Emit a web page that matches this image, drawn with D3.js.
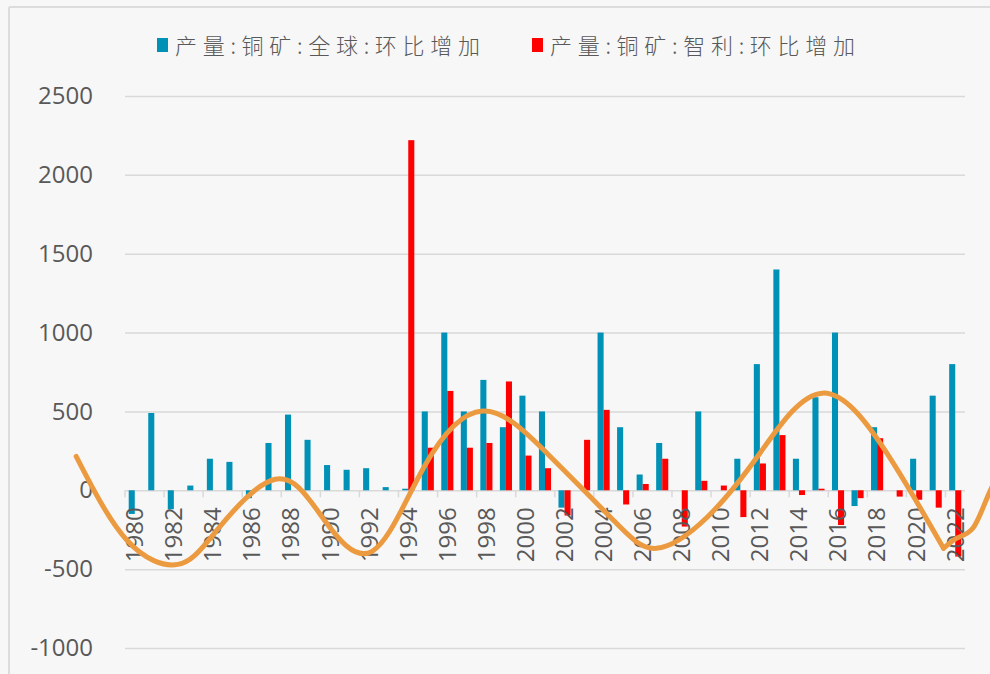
<!DOCTYPE html>
<html>
<head>
<meta charset="utf-8">
<script src="https://cdn.jsdelivr.net/npm/d3@7"></script>
<style>
  html, body { margin: 0; padding: 0; background: #f7f7f7; }
  svg { display: block; }
</style>
</head>
<body>
<script>
const width = 990;
const height = 674;

// years 1980..2022
const years = d3.range(1980, 2023);

// 产量:铜矿:全球:环比增加
const globalVals = [
  -150, 490, -120, 30, 200, 180, -50, 300, 480, 320,
  160, 130, 140, 20, 10, 500, 1000, 500, 700, 400,
  600, 500, -110, 0, 1000, 400, 100, 300, 0, 500,
  0, 200, 800, 1400, 200, 590, 1000, -100, 400, 0,
  200, 600, 800
];

// 产量:铜矿:智利:环比增加
const chileVals = [
  0, 0, 0, 0, 0, 0, 0, 0, 0, 0,
  0, 0, 0, 0, 2220, 270, 630, 270, 300, 690,
  220, 140, -160, 320, 510, -90, 40, 200, -230, 60,
  30, -170, 170, 350, -30, 10, -220, -50, 330, -40,
  -60, -110, -420
];

// orange cycle curve (year, value)
// smooth part up to the sharp low of 2021, then a short tail
const cycleYears = [
  1977.0, 1979.6, 1982.2, 1984.2, 1987.2, 1989.6, 1992.15, 1994.8, 1997.8,
  2001.1, 2004.5, 2006.7, 2009.3, 2012.0, 2015.2, 2018.5, 2021.4
];
const cycleVals = [
  215, -317, -470, -254, 70, -171, -387, 146, 502,
  235, -190, -368, -171, 235, 616, 235, -368
];
const tailYears = [2021.4, 2021.9, 2022.9, 2023.8, 2024.3];
const tailVals = [-368, -317, -241, 0, 130];

const yTicks = [-1000, -500, 0, 500, 1000, 1500, 2000, 2500];
const xTickLabels = years.filter((d) => d % 2 === 0);

const seriesNames = ['产量:铜矿:全球:环比增加', '产量:铜矿:智利:环比增加'];
const colors = ['#0091b7', '#ff0000'];

const plot = { left: 125, right: 965, top: 96, bottom: 648 };

const svg = d3
  .select('body')
  .append('svg')
  .attr('width', width)
  .attr('height', height);

svg.append('rect')
  .attr('width', width)
  .attr('height', height)
  .attr('fill', '#f7f7f7');

// outer frame (top + left)
svg.append('line')
  .attr('x1', 9).attr('x2', width)
  .attr('y1', 7).attr('y2', 7)
  .attr('stroke', '#dcdcdc').attr('stroke-width', 2);
svg.append('line')
  .attr('x1', 9).attr('x2', 9)
  .attr('y1', 7).attr('y2', height)
  .attr('stroke', '#dcdcdc').attr('stroke-width', 2);

const x = d3.scaleBand()
  .domain(years)
  .range([plot.left, plot.right])
  .padding(0);

const bw = x.bandwidth();
const x1 = d3.scaleBand()
  .domain([0, 1])
  .range([bw * 0.19, bw * 0.81])
  .padding(0);

// continuous year scale for the curve, aligned to band centres
const xl = d3.scaleLinear()
  .domain([1979.5, 2022.5])
  .range([plot.left, plot.right]);

const y = d3.scaleLinear()
  .domain([-1000, 2500])
  .range([plot.bottom, plot.top]);

// gridlines + y labels
const yAxis = svg.append('g')
  .attr('transform', `translate(${plot.left},0)`)
  .call(d3.axisLeft(y)
    .tickValues(yTicks)
    .tickFormat((d) => String(d))
    .tickSize(-(plot.right - plot.left))
    .tickPadding(32));
yAxis.select('.domain').remove();
yAxis.selectAll('.tick line').attr('stroke', '#d9d9d9').attr('stroke-width', 1.5);
yAxis.selectAll('.tick text')
  .attr('fill', '#595959')
  .style('font-family', '"Open Sans", "DejaVu Sans", sans-serif')
  .style('font-size', '24px');

// x ticks at band boundaries before even years
svg.append('g')
  .selectAll('line')
  .data(xTickLabels)
  .enter()
  .append('line')
  .attr('x1', (d) => x(d))
  .attr('x2', (d) => x(d))
  .attr('y1', y(0))
  .attr('y2', y(0) + 7)
  .attr('stroke', '#d9d9d9')
  .attr('stroke-width', 1.5);

// bars
const rows = years.map((yr, i) => ({ year: yr, vals: [globalVals[i], chileVals[i]] }));
const groups = svg.append('g')
  .selectAll('g')
  .data(rows)
  .enter()
  .append('g')
  .attr('transform', (d) => `translate(${x(d.year)},0)`);

groups.selectAll('rect')
  .data((d) => d.vals.map((v, k) => ({ k, v })))
  .enter()
  .append('rect')
  .attr('x', (d) => x1(d.k))
  .attr('width', x1.bandwidth())
  .attr('y', (d) => y(Math.max(0, d.v)))
  .attr('height', (d) => Math.abs(y(d.v) - y(0)))
  .attr('fill', (d) => colors[d.k]);

// x labels, rotated
svg.append('g')
  .selectAll('text')
  .data(xTickLabels)
  .enter()
  .append('text')
  .attr('transform', (d) => `translate(${x(d) + bw / 2},${y(0) + 17}) rotate(-90)`)
  .attr('text-anchor', 'end')
  .attr('dy', '0.35em')
  .attr('fill', '#595959')
  .style('font-family', '"Open Sans", "DejaVu Sans", sans-serif')
  .style('font-size', '24px')
  .text((d) => d);

// cycle curve
const lineGen = d3.line()
  .x((d) => xl(d[0]))
  .y((d) => y(d[1]));

const cycle = cycleYears.map((yr, i) => [yr, cycleVals[i]]);
const tail = tailYears.map((yr, i) => [yr, tailVals[i]]);

const curveG = svg.append('g')
  .attr('fill', 'none')
  .attr('stroke', '#ec9a3f')
  .attr('stroke-width', 5)
  .attr('stroke-linejoin', 'round')
  .attr('stroke-linecap', 'round');

curveG.append('path')
  .attr('d', lineGen.curve(d3.curveNatural)(cycle));
curveG.append('path')
  .attr('d', lineGen.curve(d3.curveMonotoneX)(tail));

// legend
const legendX = [157, 532];
const legend = svg.append('g')
  .selectAll('g')
  .data(seriesNames)
  .enter()
  .append('g')
  .attr('transform', (d, i) => `translate(${legendX[i]},0)`);

legend.append('rect')
  .attr('x', 0)
  .attr('y', 38)
  .attr('width', 11)
  .attr('height', 14)
  .attr('fill', (d, i) => colors[i]);

legend.append('text')
  .attr('x', 18)
  .attr('y', 54)
  .attr('textLength', 305)
  .attr('lengthAdjust', 'spacing')
  .attr('fill', '#595959')
  .style('font-family', '"Noto Sans CJK SC", sans-serif')
  .style('font-size', '22px')
  .style('font-weight', 300)
  .text((d) => d);
</script>
</body>
</html>
